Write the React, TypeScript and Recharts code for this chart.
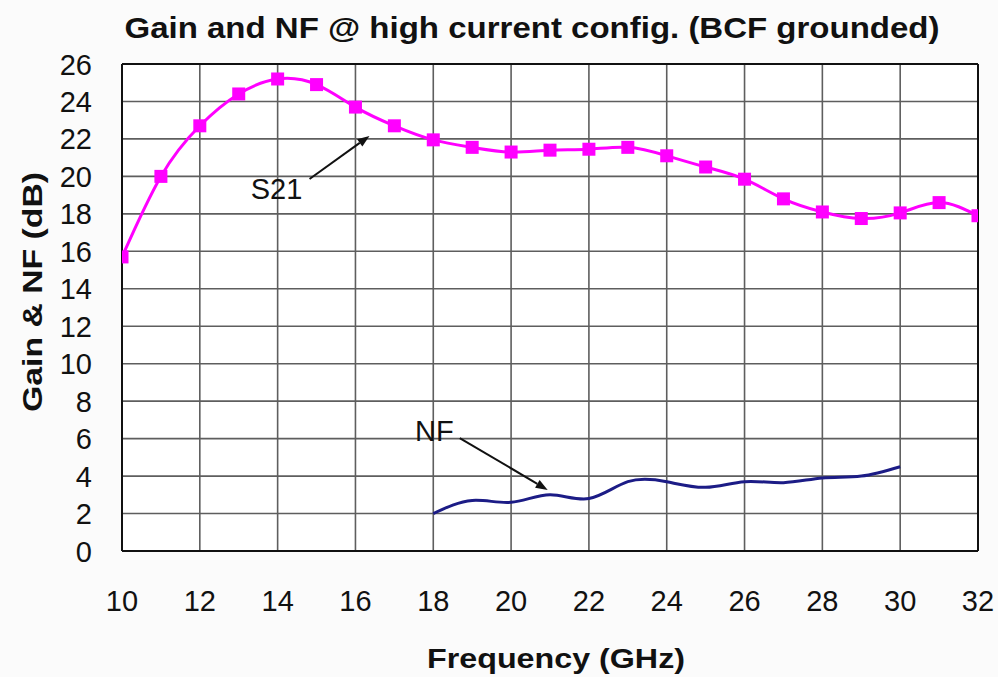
import { CartesianGrid, Line, LineChart, ReferenceDot, ReferenceLine, XAxis, YAxis } from "recharts";

// S21 gain, measured every 1 GHz
const s21Freq = [10, 11, 12, 13, 14, 15, 16, 17, 18, 19, 20, 21, 22, 23, 24, 25, 26, 27, 28, 29, 30, 31, 32];
const s21Gain = [15.7, 20.0, 22.7, 24.4, 25.2, 24.9, 23.7, 22.7, 21.95, 21.55, 21.3, 21.4, 21.45, 21.55, 21.1, 20.5, 19.85, 18.8, 18.1, 17.75, 18.05, 18.6, 17.9];

// noise figure, 18-30 GHz
const nfFreq = [18, 19, 20, 21, 22, 23, 24, 25, 26, 27, 28, 29, 30];
const nfValue = [2.0, 2.7, 2.6, 3.0, 2.8, 3.7, 3.7, 3.4, 3.7, 3.65, 3.9, 4.0, 4.5];

const xTicks = [10, 12, 14, 16, 18, 20, 22, 24, 26, 28, 30, 32];
const yTicks = [0, 2, 4, 6, 8, 10, 12, 14, 16, 18, 20, 22, 24, 26];

const s21Data = s21Freq.map((f, i) => ({ freq: f, s21: s21Gain[i] }));
const nfData = nfFreq.map((f, i) => ({ freq: f, nf: nfValue[i] }));

const FONT = "'Liberation Sans', Arial, sans-serif";
const MAGENTA = "#ff00ff";
const NAVY = "#1c1c86";

const SquareDot = (props: any) => {
  const { cx, cy, index } = props;
  if (cx == null || cy == null) return <g key={`sq-${index}`} />;
  return <rect key={`sq-${index}`} x={cx - 6.5} y={cy - 6.5} width={13} height={13} fill={MAGENTA} />;
};

const Arrow = (props: any) => {
  const { x1, y1, x2, y2 } = props;
  const ang = Math.atan2(y2 - y1, x2 - x1);
  const len = 12;
  const w = 4.5;
  const bx = x2 - len * Math.cos(ang);
  const by = y2 - len * Math.sin(ang);
  const px = -Math.sin(ang) * w;
  const py = Math.cos(ang) * w;
  return (
    <g>
      <line x1={x1} y1={y1} x2={bx} y2={by} stroke="#111" strokeWidth={2} />
      <polygon points={`${x2},${y2} ${bx + px},${by + py} ${bx - px},${by - py}`} fill="#111" />
    </g>
  );
};

const XTick = (props: any) => {
  const { x, y, payload } = props;
  return (
    <text x={x} y={y + 21} textAnchor="middle" fontFamily={FONT} fontSize={29} fill="#111">
      {payload.value}
    </text>
  );
};

const YTick = (props: any) => {
  const { x, y, payload } = props;
  return (
    <text x={x} y={y + 10.5} textAnchor="end" fontFamily={FONT} fontSize={29} fill="#111">
      {payload.value}
    </text>
  );
};

const XLabel = () => (
  <text x={556} y={668} textAnchor="middle" fontFamily={FONT} fontWeight="bold" fontSize={28} fill="#111"
    textLength={258} lengthAdjust="spacingAndGlyphs">
    Frequency (GHz)
  </text>
);

const YLabel = () => (
  <text x={42} y={292} transform="rotate(-90, 42, 292)" textAnchor="middle" fontFamily={FONT} fontWeight="bold"
    fontSize={28} fill="#111" textLength={240} lengthAdjust="spacingAndGlyphs">
    Gain &amp; NF (dB)
  </text>
);

export default function App() {
  return (
    <div style={{ position: "absolute", left: 0, top: 0, width: 998, height: 677, background: "#fbfbfb" }}>
      <svg width={998} height={60} style={{ position: "absolute", left: 0, top: 0 }}>
        <text x={532} y={38} textAnchor="middle" fontFamily={FONT} fontWeight="bold" fontSize={30} fill="#111"
          textLength={815} lengthAdjust="spacingAndGlyphs">
          Gain and NF @ high current config. (BCF grounded)
        </text>
      </svg>
      <div style={{ position: "absolute", left: 0, top: 0 }}>
        <LineChart width={998} height={677} margin={{ top: 64, right: 20, bottom: 0, left: 0 }}>
          <CartesianGrid stroke="#5e5e5e" strokeWidth={1.6} fill="#ffffff" fillOpacity={1} horizontalValues={yTicks} verticalValues={xTicks} />
          <XAxis
            type="number"
            dataKey="freq"
            domain={[10, 32]}
            ticks={xTicks}
            allowDataOverflow
            height={126}
            tickSize={0}
            tickMargin={39}
            interval={0}
            axisLine={{ stroke: "#111", strokeWidth: 2 }}
            tick={<XTick />}
            label={<XLabel />}
          />
          <YAxis
            type="number"
            domain={[0, 26]}
            ticks={yTicks}
            width={122}
            tickSize={0}
            tickMargin={30}
            interval={0}
            axisLine={{ stroke: "#111", strokeWidth: 2 }}
            tick={<YTick />}
            label={<YLabel />}
          />
          <ReferenceLine y={26} stroke="#111" strokeWidth={2} />
          <ReferenceLine x={32} stroke="#111" strokeWidth={2} />
          <Line
            data={s21Data}
            dataKey="s21"
            type="natural"
            stroke={MAGENTA}
            strokeWidth={3}
            dot={SquareDot}
            activeDot={false}
            isAnimationActive={false}
          />
          <Line
            data={nfData}
            dataKey="nf"
            type="natural"
            stroke={NAVY}
            strokeWidth={3}
            dot={false}
            activeDot={false}
            isAnimationActive={false}
          />
          <ReferenceLine segment={[{ x: 14.82, y: 19.86 }, { x: 16.36, y: 22.16 }]} shape={Arrow} ifOverflow="visible" />
          <ReferenceLine segment={[{ x: 18.68, y: 6.03 }, { x: 20.94, y: 3.26 }]} shape={Arrow} ifOverflow="visible" />
          <ReferenceDot x={13.97} y={19.36} r={0} fill="none" stroke="none" ifOverflow="visible"
            label={{ value: "S21", position: "center", fontSize: 29, fontFamily: FONT, fill: "#111" }} />
          <ReferenceDot x={18.03} y={6.4} r={0} fill="none" stroke="none" ifOverflow="visible"
            label={{ value: "NF", position: "center", fontSize: 29, fontFamily: FONT, fill: "#111" }} />
        </LineChart>
      </div>
    </div>
  );
}
